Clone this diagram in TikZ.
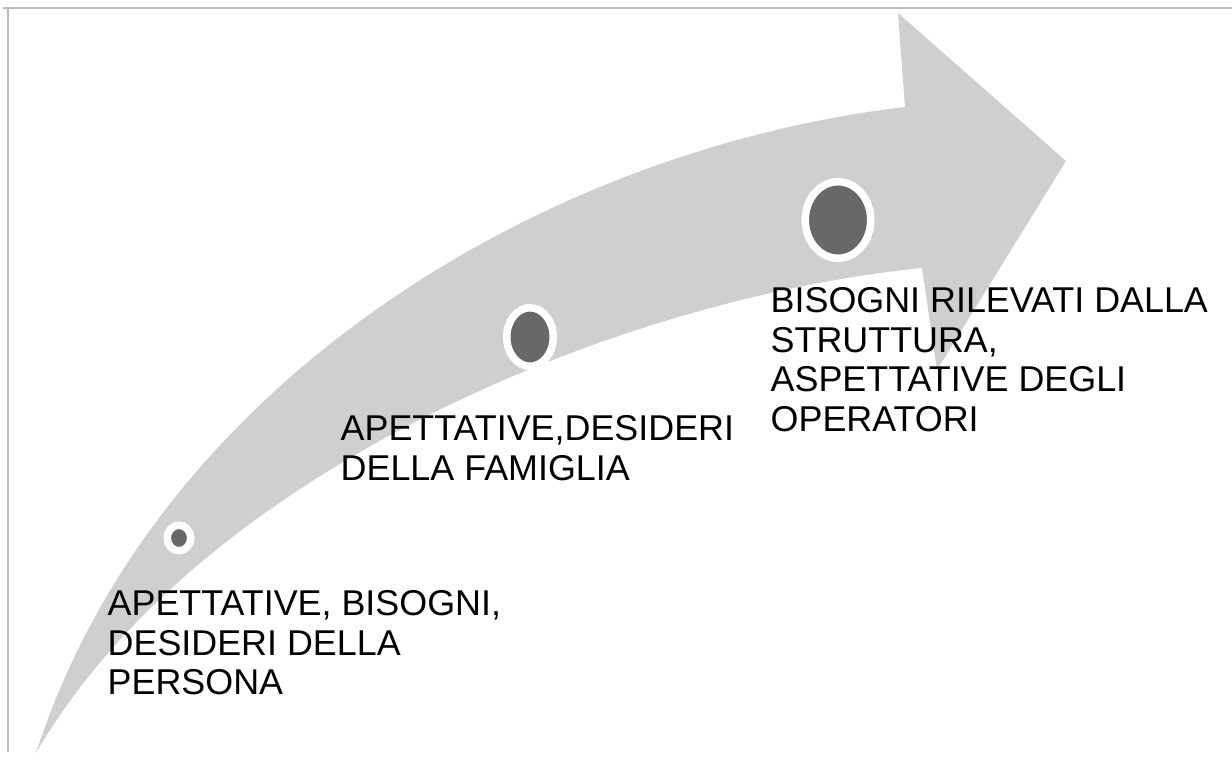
\documentclass[tikz,border=0pt]{standalone}
\usepackage{fontspec}
\setmainfont{Liberation Sans}
\usepackage{tikz}
\usetikzlibrary{shapes,positioning}

\definecolor{arrowgray}{HTML}{CFCFCF}
\definecolor{dotgray}{HTML}{686868}
\definecolor{framegray}{HTML}{BDBDBD}

\begin{document}
\begin{tikzpicture}[x=0.01cm, y=-0.01cm,
    stagedot/.style={ellipse, fill=dotgray, draw=white, line width=0.075cm, inner sep=0pt},
    stagetext/.style={anchor=north west, inner sep=0pt, align=left, text=black,
        font=\fontsize{10.2pt}{11.25pt}\selectfont}
]
    \useasboundingbox (0,0) rectangle (1232,761);
    \draw[framegray, line width=0.4pt] (3,8) -- (1232,8);
    \draw[framegray, line width=0.4pt] (8,8) -- (8,752);

    % curved arrow
    \fill[arrowgray] (36,753) .. controls (155,385) and (540,150) .. (905,107)
        -- (898,13) -- (1066,161) -- (937,370) -- (922,268)
        .. controls (622,298) and (201,469) .. (36,753) -- cycle;

    \node[stagedot, minimum width=0.235cm, minimum height=0.255cm] (dot1) at (179,538) {};
    \node[stagedot, minimum width=0.465cm, minimum height=0.585cm] (dot2) at (530,337) {};
    \node[stagedot, minimum width=0.655cm, minimum height=0.765cm] (dot3) at (838,220) {};

    \node[stagetext] (text1) at (107,590) {APETTATIVE, BISOGNI,\\DESIDERI DELLA\\PERSONA};
    \node[stagetext] (text2) at (340,415) {APETTATIVE,DESIDERI\\DELLA FAMIGLIA};
    \node[stagetext] (text3) at (770,287) {BISOGNI RILEVATI DALLA\\STRUTTURA,\\ASPETTATIVE DEGLI\\OPERATORI};
\end{tikzpicture}
\end{document}
